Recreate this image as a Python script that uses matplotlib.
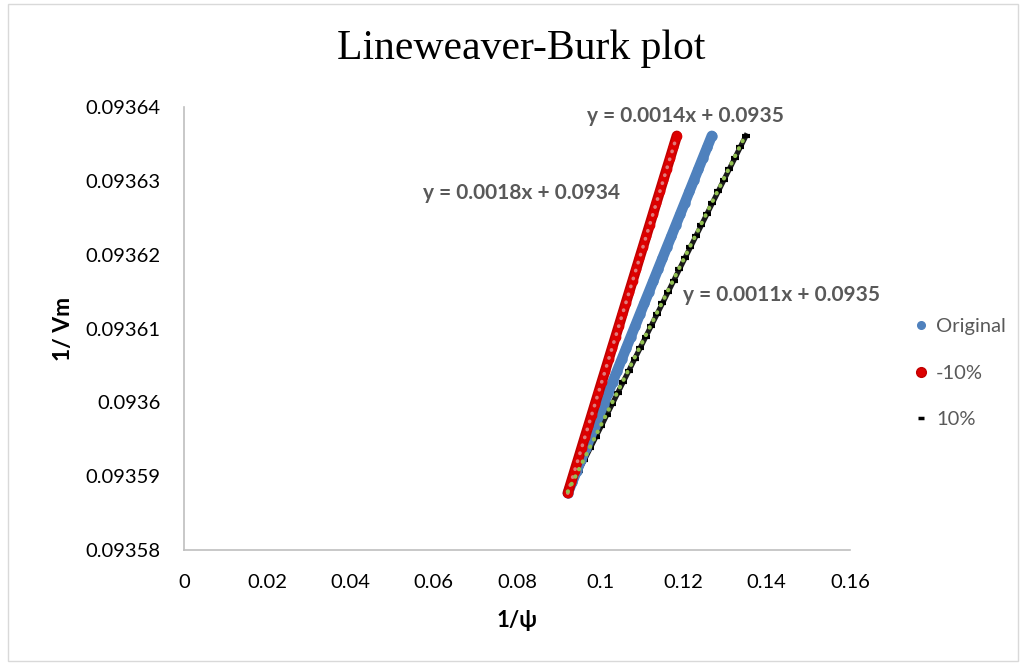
import matplotlib
matplotlib.use("Agg")
import matplotlib.pyplot as plt
import numpy as np
from matplotlib.lines import Line2D
from matplotlib.patches import Rectangle

# ---- data ----
inv_vm = [0.0935877, 0.0935892, 0.0935907, 0.0935922, 0.0935938, 0.0935953,
          0.0935968, 0.0935983, 0.0935998, 0.0936013, 0.0936028, 0.0936043,
          0.0936059, 0.0936074, 0.0936089, 0.0936104, 0.0936119, 0.0936134,
          0.0936149, 0.0936165, 0.0936180, 0.0936195, 0.0936210, 0.0936225,
          0.0936240, 0.0936255, 0.0936270, 0.0936286, 0.0936301, 0.0936316,
          0.0936331, 0.0936346, 0.0936361]

x_original = [0.09220, 0.09327, 0.09435, 0.09542, 0.09656, 0.09763, 0.09870,
              0.09978, 0.10085, 0.10192, 0.10300, 0.10407, 0.10521, 0.10628,
              0.10735, 0.10843, 0.10950, 0.11057, 0.11165, 0.11279, 0.11386,
              0.11493, 0.11600, 0.11708, 0.11815, 0.11922, 0.12030, 0.12144,
              0.12251, 0.12358, 0.12465, 0.12573, 0.12680]

x_minus10 = [0.09220, 0.09301, 0.09382, 0.09464, 0.09550, 0.09631, 0.09713,
             0.09794, 0.09875, 0.09956, 0.10037, 0.10119, 0.10205, 0.10286,
             0.10368, 0.10449, 0.10530, 0.10611, 0.10692, 0.10779, 0.10860,
             0.10941, 0.11023, 0.11104, 0.11185, 0.11266, 0.11347, 0.11434,
             0.11515, 0.11596, 0.11678, 0.11759, 0.11840]

x_plus10 = [0.09220, 0.09353, 0.09485, 0.09618, 0.09759, 0.09892, 0.10025,
            0.10157, 0.10290, 0.10423, 0.10555, 0.10688, 0.10829, 0.10962,
            0.11095, 0.11227, 0.11360, 0.11493, 0.11625, 0.11767, 0.11899,
            0.12032, 0.12165, 0.12297, 0.12430, 0.12563, 0.12695, 0.12837,
            0.12969, 0.13102, 0.13235, 0.13367, 0.13500]

series_labels = ["Original", "-10%", "10%"]
eq_labels = ["y = 0.0014x + 0.0935", "y = 0.0018x + 0.0934", "y = 0.0011x + 0.0935"]
eq_pos = [(0.12036, 0.0936388), (0.0812, 0.0936284), (0.14366, 0.0936145)]
x_ticks = [0, 0.02, 0.04, 0.06, 0.08, 0.1, 0.12, 0.14, 0.16]
x_ticklabels = ["0", "0.02", "0.04", "0.06", "0.08", "0.1", "0.12", "0.14", "0.16"]
y_ticks = [0.09358, 0.09359, 0.09360, 0.09361, 0.09362, 0.09363, 0.09364]
y_ticklabels = ["0.09358", "0.09359", "0.0936", "0.09361", "0.09362", "0.09363", "0.09364"]

BLUE = "#4F81BD"
RED = "#DD0000"
REDEDGE = "#C00000"
GREEN = "#92C050"
GREY = "#595959"
FONT = "Lato"

fig = plt.figure(figsize=(10.26, 6.65), dpi=100)
ax = fig.add_axes([184/1026, 1-550/665, (850-184)/1026, (550-107)/665])

# outer chart border
fig.patches.append(Rectangle((8/1026, 4/665), 1010/1026, 657/665,
                             transform=fig.transFigure, fill=False,
                             edgecolor="#D9D9D9", linewidth=1.0))

# -10% series (red)
ax.plot(x_minus10, inv_vm, color=REDEDGE, lw=7.5, solid_capstyle="round", zorder=3)
ax.plot(x_minus10, inv_vm, color=RED, lw=5, solid_capstyle="round", zorder=3)
ax.plot(x_minus10, inv_vm, ls="none", marker="o", ms=7, mfc=RED,
        mec=RED, mew=0, zorder=4)
ax.plot(x_minus10, inv_vm, color="#E07A7A", lw=2.6,
        linestyle=(0, (0.1, 2.2)), dash_capstyle="round", zorder=5)

# Original series (blue)
ax.plot(x_original, inv_vm, color=BLUE, lw=7.5, solid_capstyle="round", zorder=2)
ax.plot(x_original, inv_vm, ls="none", marker="o", ms=7.5, mfc=BLUE,
        mec=BLUE, mew=0, zorder=2)

# 10% series (black) + green dotted trendline
ax.plot(x_plus10, inv_vm, color="#1a1a1a", lw=3.8, zorder=1)
ax.plot(x_plus10, inv_vm, ls="none", marker="_", ms=5.5, mew=3,
        color="black", zorder=1)
coef = np.polyfit(x_plus10, inv_vm, 1)
xt = np.array([min(x_plus10), max(x_plus10)])
ax.plot(xt, np.polyval(coef, xt) + 0.0000002, color=GREEN, lw=3,
        linestyle=(0, (0.1, 1.9)), dash_capstyle="round", zorder=6)

ax.set_xlim(0, 0.16)
ax.set_ylim(0.09358, 0.09364)
ax.set_xticks(x_ticks)
ax.set_xticklabels(x_ticklabels)
ax.set_yticks(y_ticks)
ax.set_yticklabels(y_ticklabels)
ax.tick_params(length=0, labelsize=14.5, labelcolor="black")
ax.tick_params(axis="y", pad=17)
ax.tick_params(axis="x", pad=17)
for lab in ax.get_xticklabels() + ax.get_yticklabels():
    lab.set_fontfamily(FONT)
for s in ["top", "right"]:
    ax.spines[s].set_visible(False)
for s in ["left", "bottom"]:
    ax.spines[s].set_color("#BFBFBF")
    ax.spines[s].set_linewidth(1.2)

ax.set_xlabel("1/ψ", fontsize=16, fontweight="bold", family=FONT, labelpad=14)
ax.set_ylabel("1/ Vm", fontsize=16.5, fontweight="bold", family=FONT, labelpad=8)

fig.text(521/1026, 1-49/665, "Lineweaver-Burk plot", family="Liberation Serif",
         fontsize=30, ha="center", va="center")

for (ex, ey), t in zip(eq_pos, eq_labels):
    ax.text(ex, ey, t, fontsize=15, fontweight="bold", color=GREY,
            family=FONT, ha="center", va="center", zorder=10)

handles = [Line2D([], [], ls="none", marker="o", ms=5.5, color=BLUE),
           Line2D([], [], ls="none", marker="o", ms=7, mfc=RED, mec=REDEDGE),
           Line2D([], [], ls="none", marker="_", ms=4.5, mew=2.5, color="black")]
leg = fig.legend(handles, series_labels, loc="center left",
                 bbox_to_anchor=(903/1026, 1-373/665), frameon=False,
                 prop={"family": FONT, "size": 14.5}, labelspacing=1.45,
                 handlelength=0.8, handletextpad=0.35, borderpad=0)
for t in leg.get_texts():
    t.set_color(GREY)

fig.savefig("out.png", dpi=100)
